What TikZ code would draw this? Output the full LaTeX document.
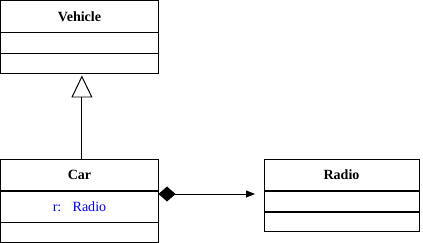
\documentclass[tikz,border=0pt]{standalone}
\usepackage{fontspec}
\setmainfont{Liberation Serif}
\usetikzlibrary{arrows.meta,positioning}

\tikzset{
 classname/.style={draw, line width=0.7pt, minimum height=0.8cm, inner sep=0pt, outer sep=0pt, font=\fontsize{10}{12}\selectfont\bfseries},
 classpart/.style={draw, line width=0.7pt, inner sep=0pt, outer sep=0pt, font=\fontsize{10}{12}\selectfont},
 divider/.style={line width=1.4pt},
 link/.style={line width=0.7pt}
}

\begin{document}
\begin{tikzpicture}
 \useasboundingbox (0,0) rectangle (10.575,-6.075);
 % Vehicle
 \node[classname, minimum width=3.95cm, anchor=north west] (vehicle) at (0.0125,-0.0125) {Vehicle};
 \node[classpart, minimum width=3.95cm, minimum height=0.525cm, below=0pt of vehicle] (vehicle-attr) {};
 \node[classpart, minimum width=3.95cm, minimum height=0.5cm, below=0pt of vehicle-attr] (vehicle-ops) {};
 \draw[divider] (vehicle.south west) -- (vehicle.south east);
 \draw[divider] (vehicle-attr.south west) -- (vehicle-attr.south east);
 % Car
 \node[classname, minimum width=3.95cm, anchor=north west] (car) at (0.0125,-3.975) {Car};
 \node[classpart, minimum width=3.95cm, minimum height=0.775cm, below=0pt of car, text=blue] (car-attr) {r:\hspace{8pt}Radio};
 \node[classpart, minimum width=3.95cm, minimum height=0.5cm, below=0pt of car-attr] (car-ops) {};
 \draw[divider] (car.south west) -- (car.south east);
 % Radio
 \node[classname, minimum width=3.875cm, anchor=north west] (radio) at (6.6,-3.975) {Radio};
 \node[classpart, minimum width=3.875cm, minimum height=0.525cm, below=0pt of radio] (radio-attr) {};
 \node[classpart, minimum width=3.875cm, minimum height=0.475cm, below=0pt of radio-attr] (radio-ops) {};
 \draw[divider] (radio.south west) -- (radio.south east);
 \draw[divider] (radio-attr.south west) -- (radio-attr.south east);
 % relations
 \draw[link, -{Triangle[open, length=0.55cm, width=0.525cm]}, shorten >=0.05cm]
  ([xshift=0.06cm]car.north) -- ([xshift=0.06cm]vehicle-ops.south);
 \draw[link, {Diamond[length=0.425cm, width=0.375cm]}-{Triangle[length=0.225cm, width=0.175cm]}]
  ([yshift=-0.075cm]car-attr.north east) -- ([xshift=-0.225cm, yshift=-0.075cm]radio-attr.north west);
\end{tikzpicture}
\end{document}
